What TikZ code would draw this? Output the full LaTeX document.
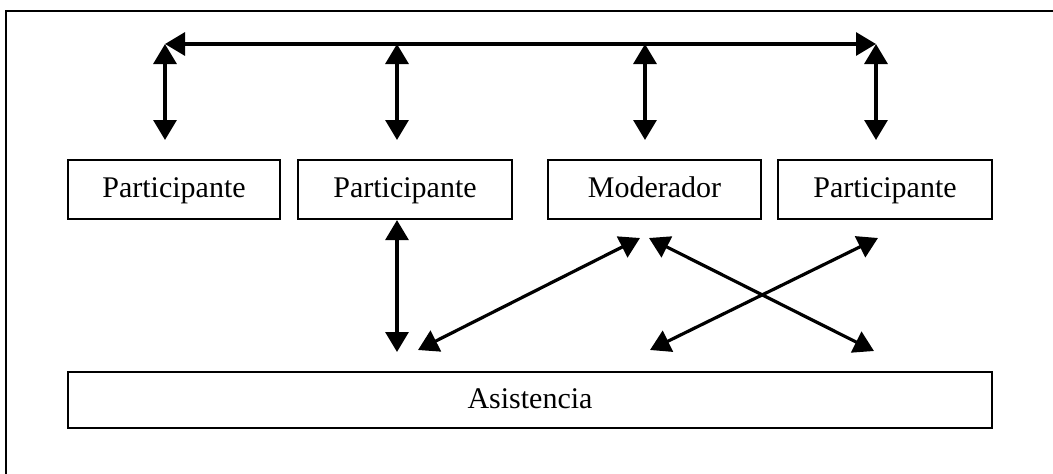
\documentclass[tikz,border=0pt]{standalone}
\usepackage{fontspec}
\setmainfont{Liberation Serif}
\usetikzlibrary{arrows.meta}
\begin{document}
\begin{tikzpicture}[x=1pt,y=-1pt,
  box/.style={draw,line width=2.2pt,minimum height=59pt,inner sep=0pt,
    text height=22pt,text depth=6pt,font=\fontsize{30}{32}\selectfont},
  link/.style={line width=3.2pt,{Triangle[length=20pt,width=23pt]}-{Triangle[length=20pt,width=23pt]}}]
  \useasboundingbox (0,0) rectangle (1053,474);
  % outer frame
  \draw[line width=2.8pt] (6,500) -- (6,11) -- (1080,11);

  % role boxes
  \node[box,minimum width=212pt] (p1) at (174,189.5) {Participante};
  \node[box,minimum width=214pt] (p2) at (405,189.5) {Participante};
  \node[box,minimum width=213pt] (mod) at (654.5,189.5) {Moderador};
  \node[box,minimum width=214pt] (p4) at (885,189.5) {Participante};
  \node[box,minimum width=924pt,minimum height=56pt] (asis) at (530,400) {Asistencia};

  % shared bus on top
  \coordinate (bl) at (165,44);
  \coordinate (b2) at (397,44);
  \coordinate (b3) at (645,44);
  \coordinate (br) at (876,44);
  \coordinate (t1) at (165,140);
  \coordinate (t2) at (397,140);
  \coordinate (t3) at (645,140);
  \coordinate (t4) at (876,140);
  \draw[link] (bl) -- (br);
  \draw[link] (bl) -- (t1);
  \draw[link] (b2) -- (t2);
  \draw[link] (b3) -- (t3);
  \draw[link] (br) -- (t4);

  % links towards the audience
  \coordinate (a1) at (397,352);
  \coordinate (a2) at (418,350);
  \coordinate (a3) at (650,350);
  \coordinate (a4) at (874,351);
  \coordinate (m1) at (640,238);
  \coordinate (m2) at (649,238);
  \coordinate (q4) at (878,238);
  \draw[link] (p2.south -| a1) -- (a1);
  \draw[link] (a2) -- (m1);
  \draw[link] (m2) -- (a4);
  \draw[link] (a3) -- (q4);
\end{tikzpicture}
\end{document}
